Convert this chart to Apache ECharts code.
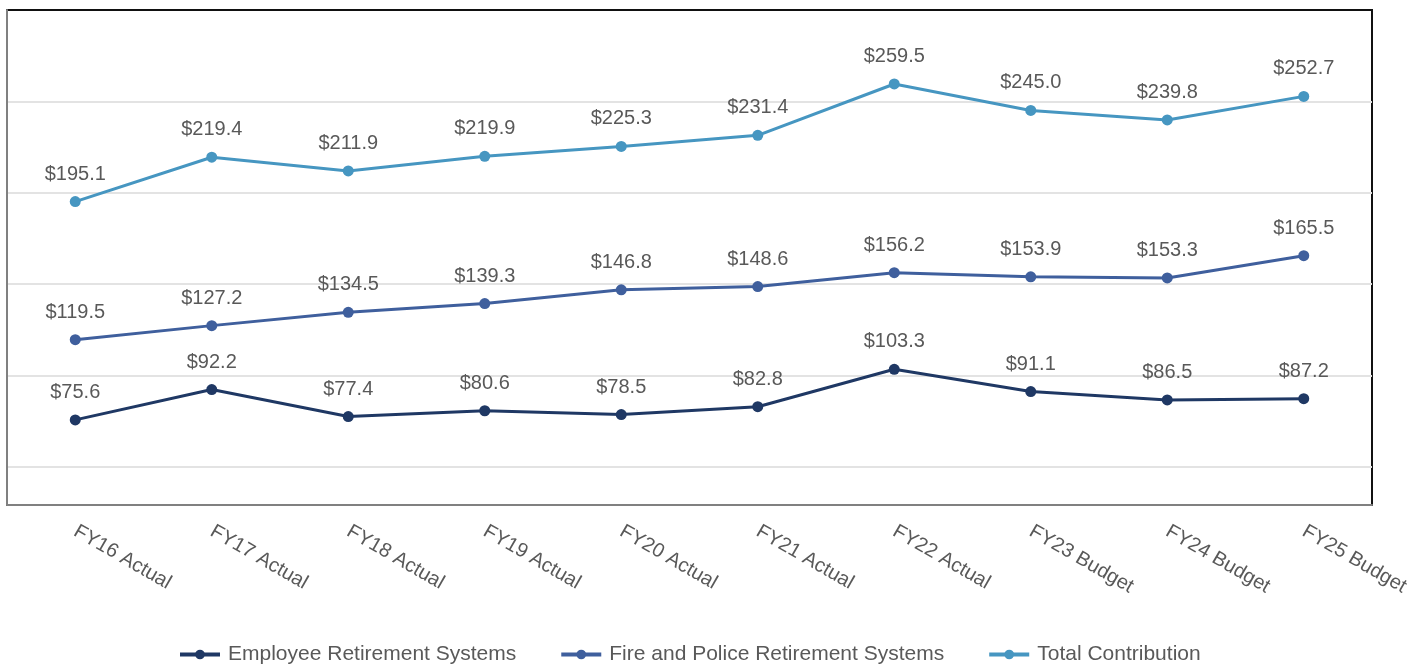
<!DOCTYPE html>
<html>
<head>
<meta charset="utf-8">
<title>Retirement Contributions</title>
<script src="https://cdn.jsdelivr.net/npm/echarts@6/dist/echarts.min.js"></script>
<style>
  html, body { margin: 0; padding: 0; background: #fff; }
  #main { width: 1424px; height: 664px; }
</style>
</head>
<body>
<div id="main"></div>
<script>
// categories (fiscal years)
var years = ["FY16 Actual", "FY17 Actual", "FY18 Actual", "FY19 Actual", "FY20 Actual",
  "FY21 Actual", "FY22 Actual", "FY23 Budget", "FY24 Budget", "FY25 Budget"];

// series values ($ millions)
var employee = [75.6, 92.2, 77.4, 80.6, 78.5, 82.8, 103.3, 91.1, 86.5, 87.2];
var firePolice = [119.5, 127.2, 134.5, 139.3, 146.8, 148.6, 156.2, 153.9, 153.3, 165.5];
var total = [195.1, 219.4, 211.9, 219.9, 225.3, 231.4, 259.5, 245.0, 239.8, 252.7];

var txtColor = "#595959";

function lineSeries(name, data, color) {
  return {
    name: name,
    type: "line",
    data: data,
    symbol: "circle",
    symbolSize: 11,
    lineStyle: { width: 3, color: color },
    itemStyle: { color: color },
    label: {
      show: true,
      position: "top",
      distance: 12,
      color: txtColor,
      fontSize: 20,
      formatter: function (p) { return "$" + p.value.toFixed(1); }
    },
    emphasis: { disabled: true }
  };
}

var chart = echarts.init(document.getElementById("main"));

chart.setOption({
  animation: false,
  textStyle: { fontFamily: "Liberation Sans" },
  grid: {
    left: 7, right: 52, top: 10, bottom: 159,
    show: true,
    borderColor: "#111",
    borderWidth: 2
  },
  legend: {
    top: 639,
    left: 173,
    itemWidth: 40,
    itemHeight: 12,
    itemGap: 43,
    lineStyle: { width: 4 },
    textStyle: { color: txtColor, fontSize: 21, padding: [0, 0, 0, 3] },
    data: ["Employee Retirement Systems", "Fire and Police Retirement Systems", "Total Contribution"]
  },
  xAxis: {
    type: "category",
    data: years,
    boundaryGap: true,
    axisLine: { show: true, lineStyle: { color: "#808080", width: 2 } },
    axisTick: { show: false },
    axisLabel: {
      rotate: -30,
      margin: 25,
      color: txtColor,
      fontSize: 20,
      interval: 0
    }
  },
  yAxis: {
    type: "value",
    min: 29,
    max: 300,
    splitNumber: 5,
    axisLabel: { show: false },
    axisTick: { show: false },
    axisLine: { show: true, lineStyle: { color: "#808080", width: 2 } },
    splitLine: {
      showMinLine: false,
      showMaxLine: false,
      lineStyle: { color: "#e3e3e3", width: 2 }
    }
  },
  series: [
    lineSeries("Employee Retirement Systems", employee, "#1f3864"),
    lineSeries("Fire and Police Retirement Systems", firePolice, "#3f5f9d"),
    lineSeries("Total Contribution", total, "#4696c1")
  ]
});
</script>
</body>
</html>
